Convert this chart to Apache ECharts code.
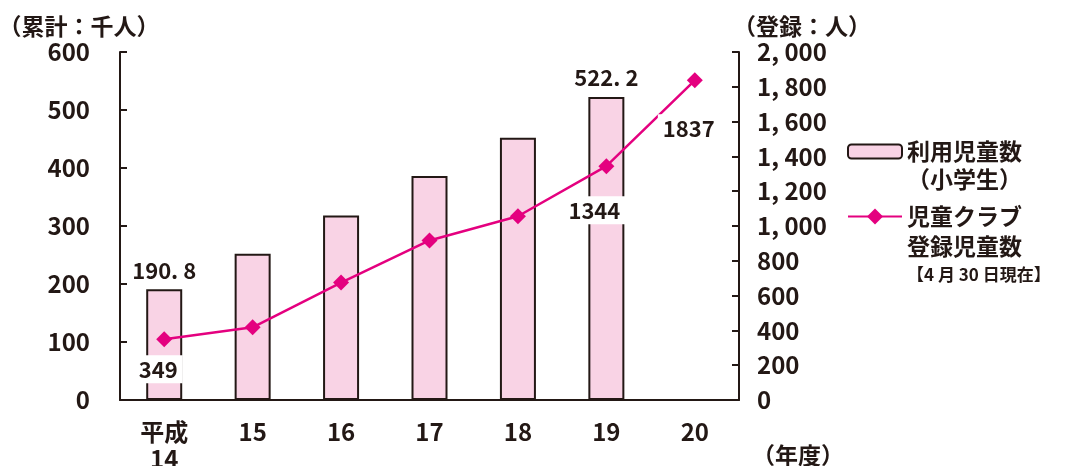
<!DOCTYPE html>
<html>
<head>
<meta charset="utf-8">
<script src="https://cdn.jsdelivr.net/npm/echarts@6/dist/echarts.min.js"></script>
<style>
  html, body { margin: 0; padding: 0; background: #fff; }
  #chart { width: 1066px; height: 466px; }
</style>
</head>
<body>
<div id="chart"></div>
<script>
const years = ['平成\n14', '15', '16', '17', '18', '19', '20']
// 利用児童数（小学生）累計：千人
const users = [190.8, 252, 318, 386, 452, 522.2, null]
// 児童クラブ登録児童数（人）
const registered = [349, 418, 675, 917, 1056, 1344, 1837]
const leftTicks = [0, 600, 100]
const rightTicks = [0, 2000, 200]

const ink = '#231815'
const pink = '#f9d3e5'
const magenta = '#e4007f'
const font = "'Noto Sans CJK JP', sans-serif"

const barLabelOn = [0, 5]
const lineLabels = {
  0: { offset: [-6, 0], distance: 8 },
  5: { offset: [-12, 0], distance: 22 },
  6: { offset: [-6, 0], distance: 26 }
}

const cjk = { fontFamily: font, fontSize: 23, fontWeight: 'bold', color: ink }
const num = { fontFamily: font, fontSize: 24, fontWeight: 'bold', color: ink }

const chart = echarts.init(document.getElementById('chart'))
chart.setOption({
  animation: false,
  title: {
    text: '（年度）',
    left: 752,
    top: 444,
    padding: 0,
    textStyle: cjk
  },
  grid: { left: 120, right: 327, top: 52, bottom: 66, outerBoundsMode: 'none' },
  legend: [{
    orient: 'vertical',
    left: 847,
    top: 112,
    padding: 0,
    itemWidth: 54,
    itemHeight: 14,
    data: ['利用児童数'],
    // blank first line keeps the icon level with the first text line
    formatter: () => '{a| }\n{a|利用児童数}\n{a|（小学生）}',
    textStyle: { color: ink, rich: { a: Object.assign({ lineHeight: 28 }, cjk) } }
  }, {
    orient: 'vertical',
    left: 847,
    top: 149,
    padding: 0,
    itemWidth: 54,
    itemHeight: 20,
    data: ['児童クラブ登録児童数'],
    formatter: () => '{a| }\n{b| }\n{a|児童クラブ}\n{a|登録児童数}\n{b|【4 月 30 日現在】}',
    textStyle: {
      color: ink,
      rich: {
        a: Object.assign({ lineHeight: 30 }, cjk),
        b: { fontFamily: font, fontSize: 17, fontWeight: 'bold', color: ink, lineHeight: 26 }
      }
    }
  }],
  xAxis: {
    type: 'category',
    data: years,
    axisLine: { lineStyle: { color: ink, width: 2 } },
    axisTick: { inside: true, length: 6, lineStyle: { color: ink, width: 2 } },
    axisLabel: Object.assign({ lineHeight: 27, margin: 18, interval: 0 }, num)
  },
  yAxis: [{
    type: 'value',
    min: leftTicks[0],
    max: leftTicks[1],
    interval: leftTicks[2],
    name: '（累計：千人）',
    nameLocation: 'end',
    nameGap: 14,
    nameTextStyle: Object.assign({ padding: [0, 82, 0, 0] }, cjk),
    axisLine: { show: true, lineStyle: { color: ink, width: 2 } },
    axisTick: { show: true, inside: true, length: 7, lineStyle: { color: ink, width: 2 } },
    axisLabel: Object.assign({ margin: 30 }, num),
    splitLine: { show: false }
  }, {
    type: 'value',
    min: rightTicks[0],
    max: rightTicks[1],
    interval: rightTicks[2],
    name: '（登録：人）',
    nameLocation: 'end',
    nameGap: 14,
    nameTextStyle: Object.assign({ padding: [0, 0, 0, 126] }, cjk),
    axisLine: { show: true, lineStyle: { color: ink, width: 2 } },
    axisTick: { show: true, inside: true, length: 7, lineStyle: { color: ink, width: 2 } },
    axisLabel: Object.assign({
      margin: 18,
      formatter: v => v >= 1000 ? Math.floor(v / 1000) + ', ' + String(v % 1000).padStart(3, '0') : String(v)
    }, num),
    splitLine: { show: false }
  }],
  series: [{
    name: '利用児童数',
    type: 'bar',
    barWidth: 36,
    itemStyle: { color: pink, borderColor: ink, borderWidth: 2 },
    data: users.map((v, i) => ({
      value: v,
      label: Object.assign({
        show: barLabelOn.includes(i),
        position: 'top',
        distance: 8,
        formatter: p => String(p.value).replace('.', '. ')
      }, num, { fontSize: 22 })
    }))
  }, {
    name: '児童クラブ登録児童数',
    type: 'line',
    yAxisIndex: 1,
    symbol: 'diamond',
    symbolSize: 16,
    itemStyle: { color: magenta },
    lineStyle: { color: magenta, width: 2.5 },
    data: registered.map((v, i) => ({
      value: v,
      label: lineLabels[i] ? Object.assign({
        show: true,
        position: 'bottom',
        distance: lineLabels[i].distance,
        offset: lineLabels[i].offset,
        backgroundColor: '#fff',
        padding: [3, 5]
      }, num, { fontSize: 22 }) : { show: false }
    }))
  }]
})
</script>
</body>
</html>
